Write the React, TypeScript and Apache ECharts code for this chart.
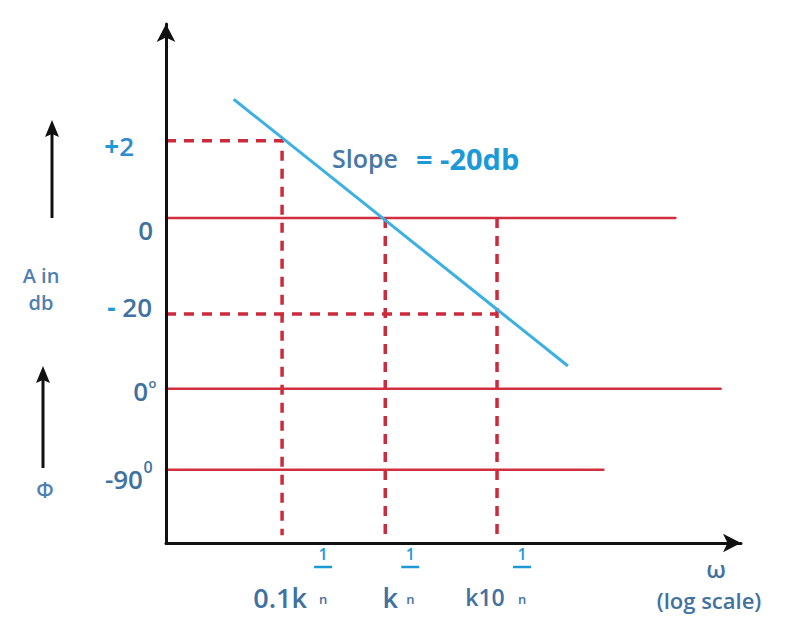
import React, { useEffect, useRef } from "react";
import * as echarts from "echarts";

// x: decades of ω relative to k^(1/n); y: plot levels (arbitrary units, 0 = ω axis)
const X_MIN = -2.04;
const X_MAX = 3.31;
const Y_MIN = 0;
const Y_MAX = 100;

const freqTicks = [-0.96, 0, 1.04];
const freqTickLabels = ["0.1k", "k", "k10"];
const levelMain = ["+2", "0", "- 20", "0", "-90"];
const levelSup = ["", "", "", "o", "0"];
const levelValues = [77.5, 62.6, 44.1, 29.7, 14.1];
const slopeX = [-1.41, 1.7];
const slopeY = [85.5, 34.1];
const magZeroEnd = 2.7;
const phaseZeroEnd = 3.12;
const phaseMinus90End = 2.03;
const dropBottoms = [1.5, 1.5, 0];

const FONT = "'Open Sans', 'DejaVu Sans', sans-serif";
const W = "600";
const RED = "#d12f3f";
const RED_DASH = "#cc2b3b";
const SKY = "#3cb0e2";
const BRIGHT = "#1c9ad8";
const STEEL = "#41729f";

export default function App() {
  const ref = useRef<HTMLDivElement>(null);

  useEffect(() => {
    const chart = echarts.init(ref.current!, undefined, { renderer: "svg" });

    const solid = (data: number[][]) => ({
      type: "line",
      data,
      symbol: "none",
      silent: true,
      z: 2,
      lineStyle: { color: RED, width: 2.5, type: "solid", cap: "round" },
    });
    const dashed = (data: number[][]) => ({
      type: "line",
      data,
      symbol: "none",
      silent: true,
      z: 2,
      lineStyle: { color: RED_DASH, width: 3.5, type: [10, 8] },
    });

    const series: any[] = [
      dashed([
        [X_MIN, levelValues[0]],
        [freqTicks[0], levelValues[0]],
        [freqTicks[0], dropBottoms[0]],
      ]),
      solid([
        [X_MIN, levelValues[1]],
        [magZeroEnd, levelValues[1]],
      ]),
      dashed([
        [freqTicks[1], levelValues[1]],
        [freqTicks[1], dropBottoms[1]],
      ]),
      dashed([
        [X_MIN, levelValues[2]],
        [freqTicks[2], levelValues[2]],
      ]),
      dashed([
        [freqTicks[2], levelValues[1]],
        [freqTicks[2], dropBottoms[2]],
      ]),
      solid([
        [X_MIN, levelValues[3]],
        [phaseZeroEnd, levelValues[3]],
      ]),
      solid([
        [X_MIN, levelValues[4]],
        [phaseMinus90End, levelValues[4]],
      ]),
      {
        type: "line",
        data: [
          [slopeX[0], slopeY[0]],
          [slopeX[1], slopeY[1]],
        ],
        symbol: "none",
        silent: true,
        z: 3,
        lineStyle: { color: SKY, width: 3 },
      },
    ];

    const axisCommon = {
      type: "value",
      z: 5,
      axisLine: {
        show: true,
        onZero: false,
        symbol: ["none", "arrow"],
        symbolSize: [14, 18],
        lineStyle: { color: "#111", width: 3 },
      },
      axisTick: { show: false },
      axisLabel: { show: false },
      splitLine: { show: false },
    };

    chart.setOption({
      animation: false,
      backgroundColor: "#ffffff",
      grid: { left: 166, right: 54, top: 24, bottom: 81 },
      xAxis: { ...axisCommon, min: X_MIN, max: X_MAX },
      yAxis: { ...axisCommon, min: Y_MIN, max: Y_MAX },
      series,
    });

    const p = (x: number, y: number) =>
      chart.convertToPixel({ gridIndex: 0 }, [x, y]) as number[];

    const axisY = p(X_MIN, 0)[1];

    const txt = (
      text: string,
      x: number,
      y: number,
      size: number,
      fill: string,
      align: string = "center",
      weight: string = W,
      rich?: any
    ) => ({
      type: "text",
      x,
      y,
      silent: true,
      z: 10,
      style: {
        text,
        fill,
        fontSize: size,
        fontFamily: FONT,
        fontWeight: weight,
        textAlign: align,
        textVerticalAlign: "middle",
        ...(rich ? { rich } : {}),
      },
    });

    const g: any[] = [];

    // level labels on the vertical axis
    const levelOffsets = [5, 12, -7, 2, 9];
    const levelRight = [134, 153, 152, 148, 143];
    const LS = 26;
    levelMain.forEach((lab, i) => {
      const ly = p(X_MIN, levelValues[i])[1] + levelOffsets[i];
      let text = `{s|${lab}}`;
      if (lab.startsWith("+")) text = `{b|+}{m|${lab.slice(1)}}`;
      else if (lab.startsWith("- ")) text = `{b|- }{s|${lab.slice(2)}}`;
      g.push(
        txt(text, levelRight[i], ly, LS, STEEL, "right", W, {
          s: { fill: STEEL, fontSize: LS, fontFamily: FONT, fontWeight: W },
          b: { fill: BRIGHT, fontSize: LS, fontFamily: FONT, fontWeight: "bold" },
          m: { fill: "#2f8bcb", fontSize: LS, fontFamily: FONT, fontWeight: W },
        })
      );
      if (levelSup[i]) {
        g.push(
          txt(levelSup[i], levelRight[i] + 0.5, ly - (i === 4 ? 12 : 8), i === 4 ? 16 : 13, STEEL, "left")
        );
      }
    });

    // frequency tick labels with 1/n exponent
    const labelCenters = [-2, 5, -12];
    const fracOffsets = [41, 25, 25];
    const labelSizes = [27, 27, 23];
    freqTicks.forEach((v, i) => {
      const tx = p(v, 0)[0];
      g.push(txt(freqTickLabels[i], tx + labelCenters[i], axisY + 54, labelSizes[i], STEEL));
      const fx = tx + fracOffsets[i];
      g.push(txt("1", fx, axisY + 11, 16, BRIGHT));
      g.push({
        type: "line",
        silent: true,
        z: 10,
        shape: { x1: fx - 9, y1: axisY + 24, x2: fx + 9, y2: axisY + 24 },
        style: { stroke: BRIGHT, lineWidth: 2.5 },
      });
      g.push(txt("n", fx, axisY + 56, 13, STEEL));
    });

    // axis names
    g.push(txt("ω", 716, 568, 24, STEEL));
    g.push(txt("(log scale)", 709, 600, 22, STEEL));
    g.push(txt("A in", 41, 275, 20, "#4f7fb0"));
    g.push(txt("db", 41, 302, 20, "#4f7fb0"));
    g.push(txt("Φ", 45, 490, 21, "#4f7fb0"));

    // slope annotation
    g.push(txt("Slope", 332, 158, 25, "#4a78a4", "left"));
    g.push(txt("= -20db", 416, 158, 29, BRIGHT, "left", "bold"));

    // left direction arrows
    const upArrow = (x: number, yBottom: number, yTip: number) => {
      g.push({
        type: "line",
        silent: true,
        z: 10,
        shape: { x1: x, y1: yBottom, x2: x, y2: yTip + 12 },
        style: { stroke: "#111", lineWidth: 3 },
      });
      g.push({
        type: "polygon",
        silent: true,
        z: 10,
        shape: {
          points: [
            [x, yTip],
            [x + 7, yTip + 17],
            [x, yTip + 14],
            [x - 7, yTip + 17],
          ],
        },
        style: { fill: "#111" },
      });
    };
    upArrow(52, 218, 120);
    upArrow(43, 468, 366);

    chart.setOption({ graphic: g });

    return () => chart.dispose();
  }, []);

  return (
    <div
      ref={ref}
      style={{ position: "absolute", left: 0, top: 0, width: 795, height: 624, background: "#fff" }}
    />
  );
}
